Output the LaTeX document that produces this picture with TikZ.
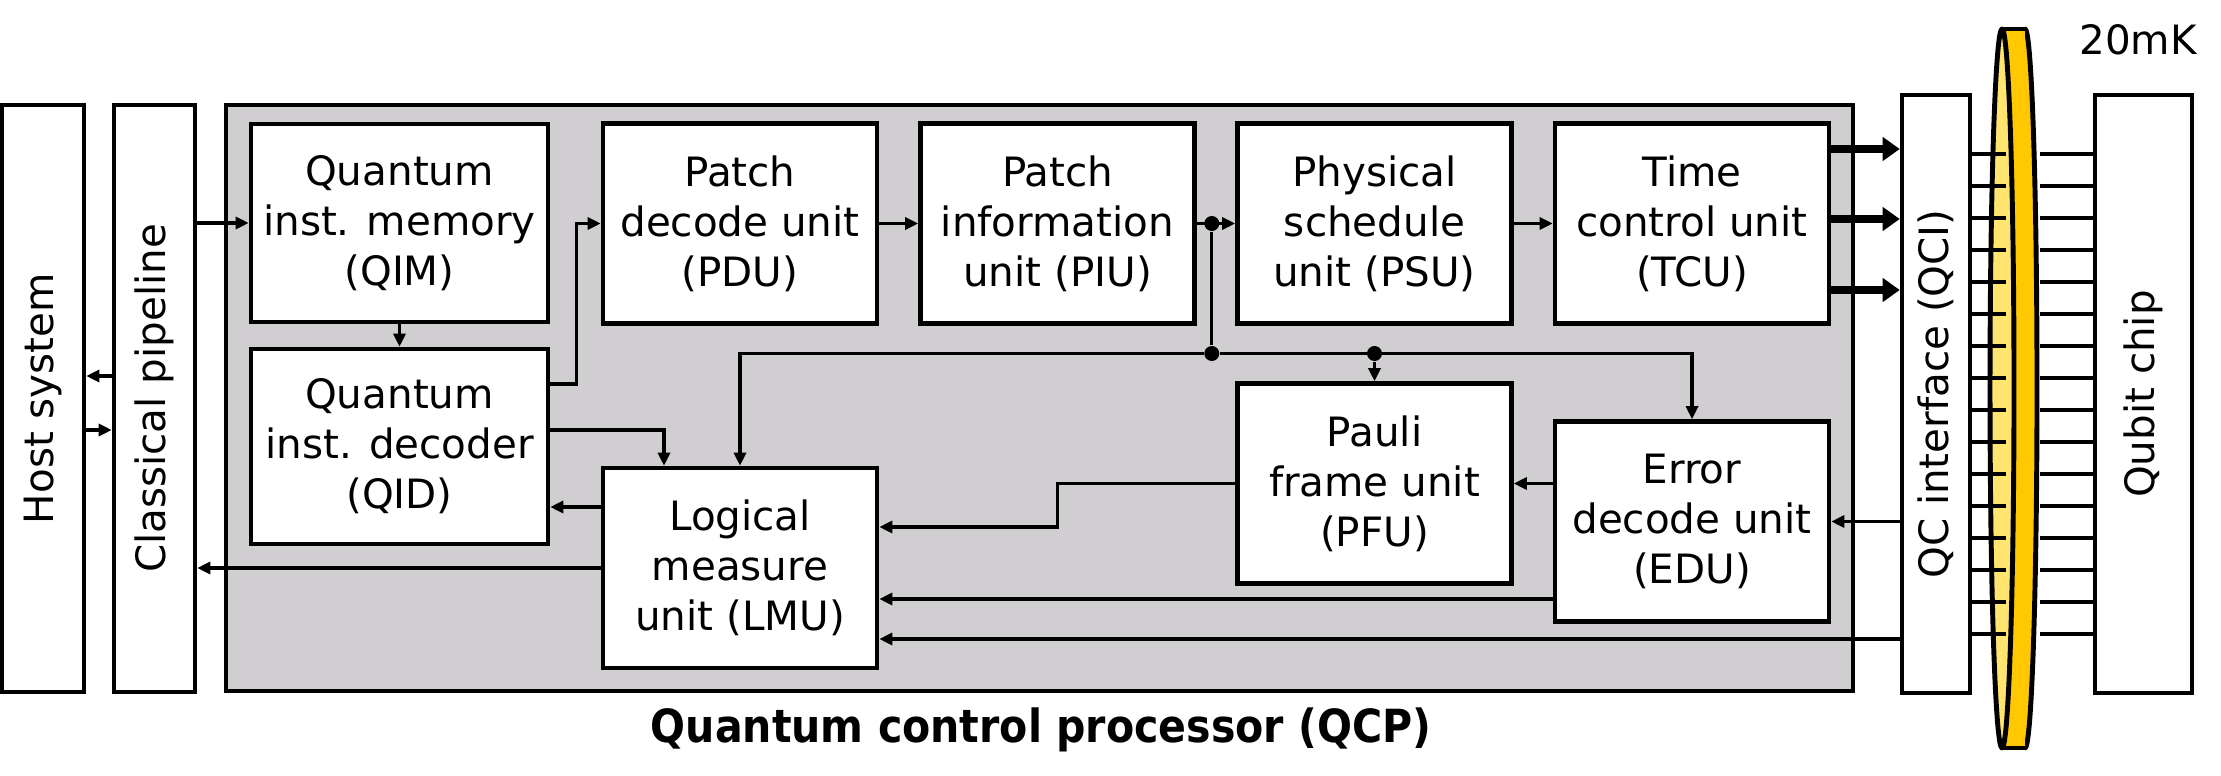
\documentclass[tikz,border=0pt]{standalone}
\usepackage{fontspec}
\setmainfont{DejaVu Sans}
\newfontfamily\titlefont{DejaVu Sans Condensed}
\usetikzlibrary{positioning,calc,arrows.meta}
\definecolor{qcpgray}{RGB}{208, 206, 208}
\definecolor{ringlight}{RGB}{255, 228, 112}
\definecolor{ringgold}{RGB}{255, 200, 0}
\tikzset{
    unitbox/.style={draw, line width=1.3pt, fill=white, align=center, inner sep=0pt,
        minimum width=27.4mm, minimum height=20mm, font=\fontsize{11.5}{14.2}\selectfont},
    sidebar/.style={draw, line width=1.3pt, fill=white, rotate=90, inner sep=0pt,
        font=\fontsize{11.5}{14}\selectfont},
    link/.style={->, line width=0.9pt},
    buslink/.style={-{Triangle[length=1.7mm,width=2.3mm]}, line width=2pt},
    wire/.style={line width=1.1pt},
    rim/.style={line width=1.4pt, line join=round, line cap=round},
    joint/.style={circle, fill=black, inner sep=0pt, minimum size=1.5mm}
}

\begin{document}
\begin{tikzpicture}[x=0.1mm, y=-0.1mm, >={Triangle[length=1.3mm,width=1.2mm]}]
    \useasboundingbox (0,0) rectangle (2221,776);

    \node [draw, line width=1.3pt, fill=qcpgray, inner sep=0pt, minimum width=162.7mm, minimum height=58.6mm] (qcp) at (1039.5,398) {};
    \node [font=\titlefont\bfseries\fontsize{13}{15}\selectfont] (qcplabel) at (1041,730) {Quantum control processor (QCP)};

    % rotated bars: south is their right side, north their left side
    \node [sidebar, minimum width=58.7mm, minimum height=8.2mm] (host) at (43,398.5) {Host system};
    \node [sidebar, minimum width=58.7mm, minimum height=8.1mm] (pipe) at (154.5,398.5) {Classical pipeline};
    \node [sidebar, minimum width=59.8mm, minimum height=6.8mm] (qci) at (1936,394) {QC interface (QCI)};
    \node [sidebar, minimum width=59.8mm, minimum height=9.7mm] (chip) at (2143.5,394) {Qubit chip};

    \node [unitbox, minimum width=29.7mm, minimum height=19.8mm] (qim) at (399.5,223) {Quantum\\inst. memory\\(QIM)};
    \node [unitbox, minimum width=29.7mm, minimum height=19.5mm] (qid) at (399.5,446.5) {Quantum\\inst. decoder\\(QID)};
    \node [unitbox] (pdu) at (740,223.5) {Patch\\decode unit\\(PDU)};
    \node [unitbox] (piu) at (1057.5,223.5) {Patch\\information\\unit (PIU)};
    \node [unitbox] (psu) at (1374.5,223.5) {Physical\\schedule\\unit (PSU)};
    \node [unitbox] (tcu) at (1692,223.5) {Time\\control unit\\(TCU)};
    \node [unitbox] (lmu) at (740,568) {Logical\\measure\\unit (LMU)};
    \node [unitbox] (pfu) at (1374.5,483.5) {Pauli\\frame unit\\(PFU)};
    \node [unitbox] (edu) at (1692,521.5) {Error\\decode unit\\(EDU)};

    \draw [link] ([yshift=2.25mm]pipe.north) coordinate (hp) -- (hp -| host.south);
    \draw [link] ([yshift=-3.15mm]host.south) coordinate (ph) -- (ph -| pipe.north);
    \draw [link] (qim.west -| pipe.south) -- (qim.west);
    \draw [link] (qim.south) -- (qid.north);
    \draw [link] ([yshift=6.25mm]qid.east) -- ++(2.6mm,0) |- (pdu.west);
    \draw [link] ([yshift=1.65mm]qid.east) -| ([xshift=-7.6mm]lmu.north);
    \draw [link] ([yshift=6.1mm]lmu.west) coordinate (lq) -- (lq -| qid.east);
    \draw [link] (lmu.west) -- (lmu.west -| pipe.south);

    \draw [link] (pdu.east) -- (piu.west);
    \draw [link] (piu.east) -- (psu.west);
    \draw [link] (psu.east) -- (tcu.west);
    \node [joint] (j1) at ($(piu.east)+(15,0)$) {};
    \node [joint] (j2) at ($(j1)+(0,130)$) {};
    \node [joint] (j3) at (j2 -| pfu.north) {};
    \draw [line width=0.9pt] (j1) -- (j2);
    \draw [link] (j2) -| (lmu.north);
    \draw [link] (j2) -| (edu.north);
    \draw [link] (j3) -- (pfu.north);

    \draw [link] (edu.west |- pfu.east) -- (pfu.east);
    \draw [link] (pfu.west) -- ++(-17.8mm,0) |- ([yshift=4.1mm]lmu.east);
    \draw [link] ([yshift=-7.75mm]edu.west) coordinate (el) -- (el -| lmu.east);
    \draw [link] (edu.east -| qci.north) -- (edu.east);
    \coordinate (ql) at ([yshift=-7.1mm]lmu.east);
    \draw [link] (ql -| qci.north) -- (ql);

    \foreach \dy in {7.45,0.45,-6.65}
        \draw [buslink] ([yshift=\dy mm]tcu.east) coordinate (tq) -- (tq -| qci.north);

    \def\cx{2002}
    \def\cy{388.5}
    \def\dw{23}
    \fill [ringgold] (\cx,29) rectangle (\cx+\dw,748);
    \fill [ringgold] (\cx+\dw,\cy) ellipse [x radius=1.2mm, y radius=35.95mm];
    \draw [rim] (\cx,29) -- (\cx+\dw,29);
    \draw [rim] (\cx,748) -- (\cx+\dw,748);
    \begin{scope}
        \clip (\cx+\dw,0) rectangle (2090,776);
        \draw [rim] (\cx+\dw,\cy) ellipse [x radius=1.2mm, y radius=35.95mm];
    \end{scope}
    \filldraw [rim, fill=ringlight] (\cx,\cy) ellipse [x radius=1.2mm, y radius=35.95mm];

    \foreach \k in {0,...,15}{
        \pgfmathsetmacro\wy{154+32*\k}
        \draw [wire] (qci.south |- 0,\wy) -- ++(3.4mm,0);
        \draw [wire] (chip.north |- 0,\wy) -- ++(-5.3mm,0);
    }

    \node [font=\fontsize{11.5}{14}\selectfont] (temp) at (2138,40) {20mK};

\end{tikzpicture}
\end{document}
